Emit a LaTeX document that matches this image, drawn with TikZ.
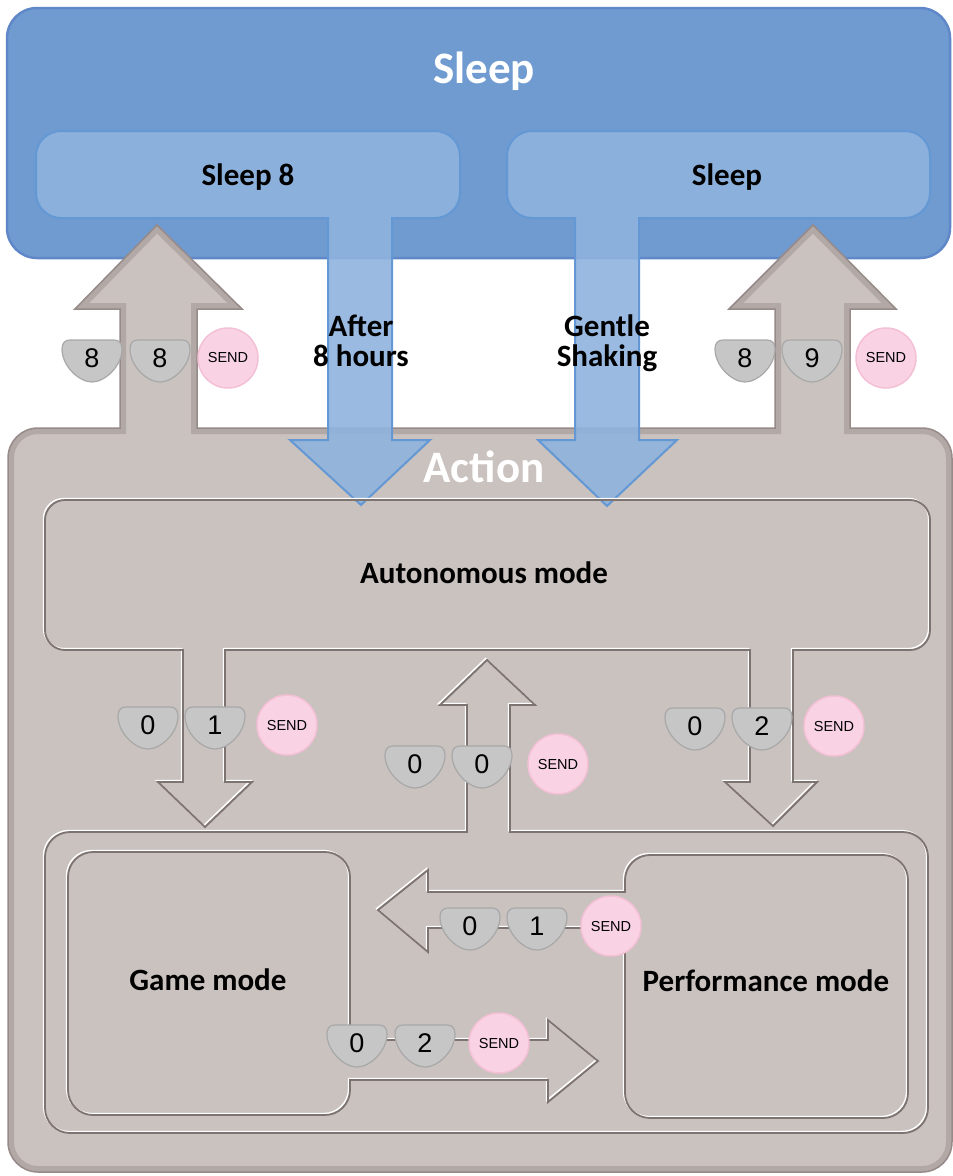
\documentclass[tikz,border=0pt]{standalone}
\usepackage{fontspec}
\setmainfont{Carlito}
\newfontfamily\arialf{Liberation Sans}
\definecolor{sleepbg}{RGB}{112,155,208}
\definecolor{sleepedge}{RGB}{96,136,200}
\definecolor{sleepin}{RGB}{143,179,222}
\definecolor{sleepinedge}{RGB}{100,152,212}
\definecolor{actbg}{RGB}{201,194,191}
\definecolor{actband}{RGB}{178,168,166}
\definecolor{actedge}{RGB}{150,139,137}
\definecolor{embdark}{RGB}{125,115,113}
\definecolor{btnfill}{RGB}{198,198,198}
\definecolor{btnedge}{RGB}{168,168,168}
\definecolor{sendfill}{RGB}{249,210,227}
\definecolor{sendedge}{RGB}{243,192,213}
\tikzset{
  lbl/.style={font=\bfseries\fontsize{31}{33}\selectfont, inner sep=0pt, anchor=base},
  ttl/.style={font=\bfseries\fontsize{45}{48}\selectfont, text=white, inner sep=0pt, anchor=base},
  digtext/.style={font=\arialf\fontsize{27}{28}\selectfont, inner sep=0pt},
  sendbtn/.style={circle, fill=sendfill, draw=sendedge, line width=1.5pt, minimum size=60pt, inner sep=0pt, font=\arialf\fontsize{14.5}{15}\selectfont},
  embw/.style={white, line width=1.5pt, xshift=-1.4pt, yshift=1.4pt},
  embd/.style={embdark, line width=1.8pt},
  blueT/.style={fill=sleepin, fill opacity=0.9, draw=sleepinedge, line width=2pt, line join=miter},
  digbtn/.pic={
    \path[fill=btnfill, draw=btnedge, line width=1.2pt] (-22,-18) -- (22,-18) .. controls (27,-18) and (30,-15) .. (30,-9) .. controls (30,8) and (13,24) .. (0,24) .. controls (-13,24) and (-30,8) .. (-30,-9) .. controls (-30,-15) and (-27,-18) .. (-22,-18) -- cycle;
    \node[digtext] (-t) at (0,0) {#1};
  }
}
\newcommand\mkemboss[1]{\draw[embw] #1; \draw[embd] #1;}
\def\actpath{(8,458) arc[start angle=180,end angle=270,radius=30] -- (120,428) -- (120,309) -- (75,309) -- (157,225) -- (242,309) -- (197,309) -- (197,428) -- (775,428) -- (775,309) -- (729,309) -- (813,225) -- (896,309) -- (850,309) -- (850,428) -- (922,428) arc[start angle=270,end angle=360,radius=30] -- (952,1142) arc[start angle=0,end angle=90,radius=30] -- (38,1172) arc[start angle=90,end angle=180,radius=30] -- cycle}
\def\autpath{(45,520) arc[start angle=180,end angle=270,radius=20] -- (910,500) arc[start angle=270,end angle=360,radius=20] -- (930,630) arc[start angle=0,end angle=90,radius=20] -- (793,650) -- (793,782) -- (817,782) -- (773,826) -- (725,782) -- (750,782) -- (750,650) -- (225,650) -- (225,782) -- (252,782) -- (205,827) -- (158,782) -- (183,782) -- (183,650) -- (65,650) arc[start angle=90,end angle=180,radius=20] -- cycle}
\def\botpath{(45,857) arc[start angle=180,end angle=270,radius=25] -- (467,832) -- (467,705) -- (440,705) -- (487,660) -- (535,705) -- (510,705) -- (510,832) -- (903,832) arc[start angle=270,end angle=360,radius=25] -- (928,1108) arc[start angle=0,end angle=90,radius=25] -- (70,1133) arc[start angle=90,end angle=180,radius=25] -- cycle}
\def\gamepath{(68,877) arc[start angle=180,end angle=270,radius=25] -- (325,852) arc[start angle=270,end angle=360,radius=25] -- (350,1040) -- (548,1040) -- (548,1020) -- (598,1061) -- (548,1102) -- (548,1080) -- (350,1080) -- (350,1090) arc[start angle=0,end angle=90,radius=25] -- (93,1115) arc[start angle=90,end angle=180,radius=25] -- cycle}
\def\perfpath{(625,880) arc[start angle=180,end angle=270,radius=25] -- (883,855) arc[start angle=270,end angle=360,radius=25] -- (908,1093) arc[start angle=0,end angle=90,radius=25] -- (650,1118) arc[start angle=90,end angle=180,radius=25] -- (625,928) -- (428,928) -- (428,952) -- (378,910) -- (428,870) -- (428,892) -- (625,892) -- cycle}
\begin{document}
\begin{tikzpicture}[x=1pt,y=-1pt]
\useasboundingbox (0,0) rectangle (953,1176);
% Sleep outer box
\path[fill=sleepbg, draw=sleepedge, line width=2.5pt] (7,38) arc[start angle=180,end angle=270,radius=30] -- (920,8) arc[start angle=270,end angle=360,radius=30] -- (950,228) arc[start angle=0,end angle=90,radius=30] -- (37,258) arc[start angle=90,end angle=180,radius=30] -- cycle;
% Action box with up arrows
\fill[actbg] \actpath;
\begin{scope}
  \clip \actpath;
  \draw[actband, line width=12pt] \actpath;
\end{scope}
\draw[actedge, line width=1.5pt] \actpath;
% Blue T shapes (sleep boxes with down arrows)
\path[blueT] (36,156) arc[start angle=180,end angle=270,radius=25] -- (435,131) arc[start angle=270,end angle=360,radius=25] -- (460,193) arc[start angle=0,end angle=90,radius=25] -- (392,218) -- (392,440) -- (430,440) -- (361,505) -- (290,440) -- (328,440) -- (328,218) -- (61,218) arc[start angle=90,end angle=180,radius=25] -- cycle;
\path[blueT] (507,156) arc[start angle=180,end angle=270,radius=25] -- (905,131) arc[start angle=270,end angle=360,radius=25] -- (930,193) arc[start angle=0,end angle=90,radius=25] -- (639,218) -- (639,440) -- (677,440) -- (607,506) -- (538,440) -- (575,440) -- (575,218) -- (532,218) arc[start angle=90,end angle=180,radius=25] -- cycle;
% Embossed inner outlines
\mkemboss{\autpath}
\mkemboss{\botpath}
\mkemboss{\gamepath}
\mkemboss{\perfpath}
% Buttons
\pic (a1) at (92,358) {digbtn=8};
\pic (a2) at (160,358) {digbtn=8};
\node[sendbtn] (as) at (228,358) {SEND};
\pic (b1) at (745,358) {digbtn=8};
\pic (b2) at (812,358) {digbtn=9};
\node[sendbtn] (bs) at (886,358) {SEND};
\pic (c1) at (148,725) {digbtn=0};
\pic (c2) at (215,725) {digbtn=1};
\node[sendbtn] (cs) at (287,725) {SEND};
\pic (d1) at (415,764) {digbtn=0};
\pic (d2) at (482,764) {digbtn=0};
\node[sendbtn] (ds) at (558,764) {SEND};
\pic (e1) at (695,726) {digbtn=0};
\pic (e2) at (762,726) {digbtn=2};
\node[sendbtn] (es) at (834,726) {SEND};
\pic (f1) at (470,926) {digbtn=0};
\pic (f2) at (537,926) {digbtn=1};
\node[sendbtn] (fs) at (611,926) {SEND};
\pic (g1) at (357,1043) {digbtn=0};
\pic (g2) at (425,1043) {digbtn=2};
\node[sendbtn] (gs) at (499,1043) {SEND};
% Texts
\node[ttl] (sleepT) at (484,83) {Sleep};
\node[ttl] (actT) at (484,482) {Action};
\node[lbl] (s8) at (248,185) {Sleep 8};
\node[lbl] (sl) at (727,185) {Sleep};
\node[lbl] (af1) at (361,336) {After};
\node[lbl] (af2) at (361,366) {8 hours};
\node[lbl] (gs1) at (607,336) {Gentle};
\node[lbl] (gs2) at (607,366) {Shaking};
\node[lbl] (auto) at (484,583) {Autonomous mode};
\node[lbl] (game) at (208,990) {Game mode};
\node[lbl] (perf) at (766,991) {Performance mode};
\end{tikzpicture}
\end{document}
